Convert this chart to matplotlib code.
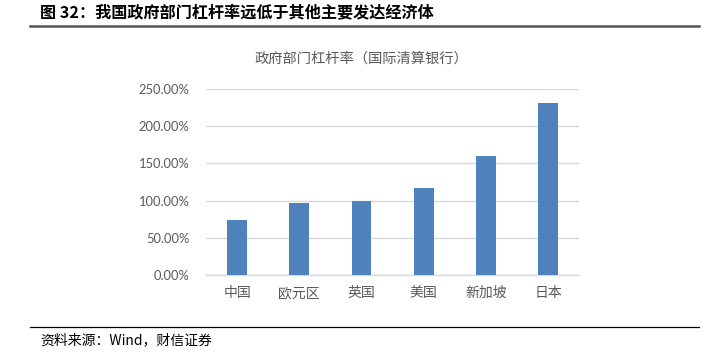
import matplotlib.pyplot as plt
from matplotlib.lines import Line2D
from matplotlib.ticker import FuncFormatter, MultipleLocator

plt.rcParams['font.family'] = ['Noto Sans CJK SC', 'DejaVu Sans']

# 数据：政府部门杠杆率（国际清算银行）
countries = ['中国', '欧元区', '英国', '美国', '新加坡', '日本']
leverage = [0.735, 0.963, 0.99, 1.173, 1.595, 2.307]

bar_color = '#4F81BD'
grid_color = '#D9D9D9'
text_gray = '#595959'

fig = plt.figure(figsize=(7.08, 3.52), dpi=100)
ax = fig.add_axes([0.291, 0.219, 0.527, 0.528])

x = range(len(countries))
ax.bar(x, leverage, width=0.32, color=bar_color, zorder=3)

ax.set_xlim(-0.5, len(countries) - 0.5)
ax.set_ylim(0, 2.5)
ax.yaxis.set_major_locator(MultipleLocator(0.5))
ax.yaxis.set_major_formatter(FuncFormatter(lambda v, p: f'{v * 100:.2f}%'))
ax.grid(axis='y', color=grid_color, linewidth=1, zorder=0)

for side in ['top', 'right', 'left']:
    ax.spines[side].set_visible(False)
ax.spines['bottom'].set_color(grid_color)
ax.spines['bottom'].set_linewidth(1)

ax.set_xticks(list(x))
ax.set_xticklabels(countries, fontsize=10, color=text_gray)
ax.tick_params(axis='x', length=0, pad=8)
ax.tick_params(axis='y', length=0, pad=12, labelcolor=text_gray)
for lbl in ax.get_yticklabels():
    lbl.set_family(['Lato', 'DejaVu Sans'])
    lbl.set_fontsize(9.3)

# 图内标题
fig.text(361 / 708, 1 - 59 / 352, '政府部门杠杆率（国际清算银行）',
         ha='center', va='center', fontsize=10.3, color=text_gray)

# 报告标题与分隔线
fig.text(40 / 708, 1 - 12 / 352, '图 32：我国政府部门杠杆率远低于其他主要发达经济体',
         ha='left', va='center', fontsize=11.6, fontweight='bold', color='black')
fig.add_artist(Line2D([30 / 708, 699 / 708], [1 - 26 / 352, 1 - 26 / 352],
                      transform=fig.transFigure, color='#555555', linewidth=1.8))

# 资料来源
fig.add_artist(Line2D([30 / 708, 699 / 708], [1 - 327 / 352, 1 - 327 / 352],
                      transform=fig.transFigure, color='black', linewidth=0.9))
fig.text(40 / 708, 1 - 340 / 352, '资料来源：Wind，财信证券',
         ha='left', va='center', fontsize=10, style='italic', color='black')

fig.savefig('out.png', dpi=100)
